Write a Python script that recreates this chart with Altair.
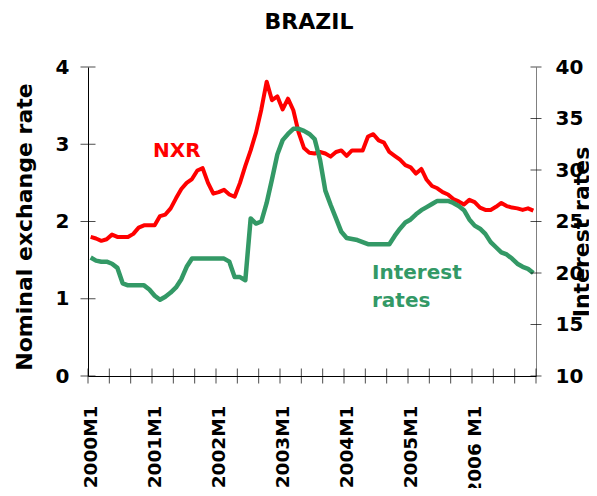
import altair as alt
import pandas as pd

# ---- data ----
# monthly observations, 2000M1 .. 2006M12
nxr = [1.80, 1.78, 1.75, 1.77, 1.83, 1.80, 1.80, 1.80, 1.84, 1.92, 1.95, 1.95,
       1.95, 2.07, 2.09, 2.17, 2.30, 2.42, 2.50, 2.55, 2.66, 2.69, 2.50, 2.36,
       2.38, 2.41, 2.35, 2.32, 2.50, 2.72, 2.92, 3.15, 3.45, 3.81, 3.57, 3.62,
       3.45, 3.59, 3.44, 3.15, 2.95, 2.89, 2.88, 2.90, 2.88, 2.84, 2.90, 2.92,
       2.85, 2.92, 2.92, 2.92, 3.10, 3.13, 3.05, 3.02, 2.90, 2.85, 2.80, 2.73,
       2.70, 2.62, 2.68, 2.54, 2.46, 2.43, 2.38, 2.35, 2.29, 2.26, 2.22, 2.28,
       2.25, 2.18, 2.15, 2.15, 2.19, 2.24, 2.20, 2.18, 2.17, 2.15, 2.17, 2.14]

interest = [21.5, 21.2, 21.1, 21.1, 20.9, 20.5, 19.0, 18.8, 18.8, 18.8, 18.8, 18.4,
            17.8, 17.4, 17.7, 18.1, 18.6, 19.4, 20.6, 21.4, 21.4, 21.4, 21.4, 21.4,
            21.4, 21.4, 21.1, 19.6, 19.6, 19.3, 25.3, 24.8, 25.0, 26.8, 29.1, 31.5,
            32.9, 33.5, 34.0, 34.0, 33.8, 33.5, 33.0, 31.0, 28.0, 26.6, 25.3, 24.0,
            23.4, 23.3, 23.2, 23.0, 22.8, 22.8, 22.8, 22.8, 22.8, 23.6, 24.3, 24.9,
            25.2, 25.7, 26.1, 26.4, 26.7, 27.0, 27.0, 27.0, 26.8, 26.5, 26.1, 25.2,
            24.6, 24.3, 23.8, 23.0, 22.5, 22.0, 21.8, 21.4, 20.9, 20.6, 20.4, 20.0]

year_labels = ["2000M1", "2001M1", "2002M1", "2003M1", "2004M1", "2005M1", "2006 M1"]
nxr_ticks = [0, 1, 2, 3, 4]
ir_ticks = [10, 15, 20, 25, 30, 35, 40]
month_ticks = list(range(0, 85, 4))          # a tick every 4 months

chart_title = ["BRAZIL"]
nxr_note = ["NXR"]
nxr_note_pos = [12.2]
nxr_note_val = [2.835]
ir_note = ["Interest", "rates"]
ir_note_pos = [53.25, 53.25]
ir_note_val = [19.42, 16.7]

# ---- tables ----
df = pd.DataFrame({"pos": [i + 0.5 for i in range(len(nxr))],
                   "nxr": nxr, "ir": interest})
xt = pd.DataFrame({"pos": month_ticks})
lt = pd.DataFrame({"nxr": nxr_ticks})
rt = pd.DataFrame({"ir": ir_ticks})
nt = pd.DataFrame({"pos": nxr_note_pos, "nxr": nxr_note_val, "t": nxr_note})
it = pd.DataFrame({"pos": ir_note_pos, "ir": ir_note_val, "t": ir_note})
tt = pd.DataFrame({"t": chart_title})

FONT = "DejaVu Sans"
RED = "#FF0000"
GREEN = "#339966"
W, H = 448, 309

label_js = "[" + ",".join("'%s'" % s for s in year_labels) + "]"

xscale = alt.Scale(domain=[0, 84], nice=False, zero=False)
xaxis = alt.Axis(values=[12 * i + 0.5 for i in range(len(year_labels))],
                 labelExpr=label_js + "[floor(datum.value / 12)]",
                 labelAngle=270, labelAlign="right", labelBaseline="middle",
                 labelFont=FONT, labelFontSize=18.5, labelFontWeight="bold",
                 labelColor="black", labelPadding=29, labelOverlap=False,
                 labelFlush=False, ticks=False, tickSize=0, grid=False,
                 domainColor="black", domainWidth=1, title=None)

lscale = alt.Scale(domain=[0, 4], nice=False, zero=False)
laxis = alt.Axis(values=nxr_ticks, orient="left", format="d",
                 labelFont=FONT, labelFontSize=20, labelFontWeight="bold",
                 labelColor="black", labelPadding=19, labelFlush=False,
                 ticks=False, tickSize=0, grid=False,
                 domainColor="black", domainWidth=1,
                 title="Nominal exchange rate", titleFont=FONT, titleFontSize=22,
                 titleFontWeight="bold", titleColor="black", titleAngle=270,
                 titleAlign="center", titleBaseline="alphabetic",
                 titleX=-57, titleY=159.5)

rscale = alt.Scale(domain=[10, 40], nice=False, zero=False)
raxis = alt.Axis(values=ir_ticks, orient="right", format="d",
                 labelFont=FONT, labelFontSize=20, labelFontWeight="bold",
                 labelColor="black", labelPadding=19, labelFlush=False,
                 ticks=False, tickSize=0, grid=False,
                 domainColor="#808080", domainWidth=1,
                 title="Interest rates", titleFont=FONT, titleFontSize=22,
                 titleFontWeight="bold", titleColor="black", titleAngle=270,
                 titleAlign="center", titleBaseline="alphabetic",
                 titleX=52, titleY=164.5)

nxr_line = alt.Chart(df).mark_line(color=RED, strokeWidth=4, strokeJoin="round").encode(
    x=alt.X("pos:Q", scale=xscale, axis=xaxis),
    y=alt.Y("nxr:Q", scale=lscale, axis=laxis),
)
x_tick_marks = alt.Chart(xt).mark_tick(color="black", thickness=1, size=15).encode(
    x=alt.X("pos:Q", scale=xscale),
    y=alt.value(H),
)
l_tick_marks = alt.Chart(lt).mark_tick(color="black", thickness=1, size=15).encode(
    y=alt.Y("nxr:Q", scale=lscale),
    x=alt.value(0),
)
nxr_text = alt.Chart(nt).mark_text(color=RED, font=FONT, fontSize=20, fontWeight="bold",
                                   align="left", baseline="alphabetic").encode(
    x=alt.X("pos:Q", scale=xscale),
    y=alt.Y("nxr:Q", scale=lscale),
    text="t:N",
)
title_text = alt.Chart(tt).mark_text(color="black", font=FONT, fontSize=22, fontWeight="bold",
                                     align="center", baseline="alphabetic").encode(
    x=alt.value(W / 2 - 3),
    y=alt.value(-38),
    text="t:N",
)

ir_line = alt.Chart(df).mark_line(color=GREEN, strokeWidth=4.5, strokeJoin="round").encode(
    x=alt.X("pos:Q", scale=xscale),
    y=alt.Y("ir:Q", scale=rscale, axis=raxis),
)
r_tick_marks = alt.Chart(rt).mark_tick(color="black", thickness=1, size=11).encode(
    y=alt.Y("ir:Q", scale=rscale),
    x=alt.value(W),
)
ir_text = alt.Chart(it).mark_text(color=GREEN, font=FONT, fontSize=20, fontWeight="bold",
                                  align="left", baseline="alphabetic").encode(
    x=alt.X("pos:Q", scale=xscale),
    y=alt.Y("ir:Q", scale=rscale),
    text="t:N",
)

left = alt.layer(nxr_line, x_tick_marks, l_tick_marks, nxr_text, title_text)
right = alt.layer(ir_line, r_tick_marks, ir_text)

chart = alt.layer(left, right).resolve_scale(y="independent").properties(
    width=W, height=H,
    autosize=alt.AutoSizeParams(type="none"),
    padding={"left": 80, "top": 59, "right": 53, "bottom": 112},
    background="white",
).configure_view(stroke=None)

chart.save("out.html", embed_options={"renderer": "svg", "actions": False})
